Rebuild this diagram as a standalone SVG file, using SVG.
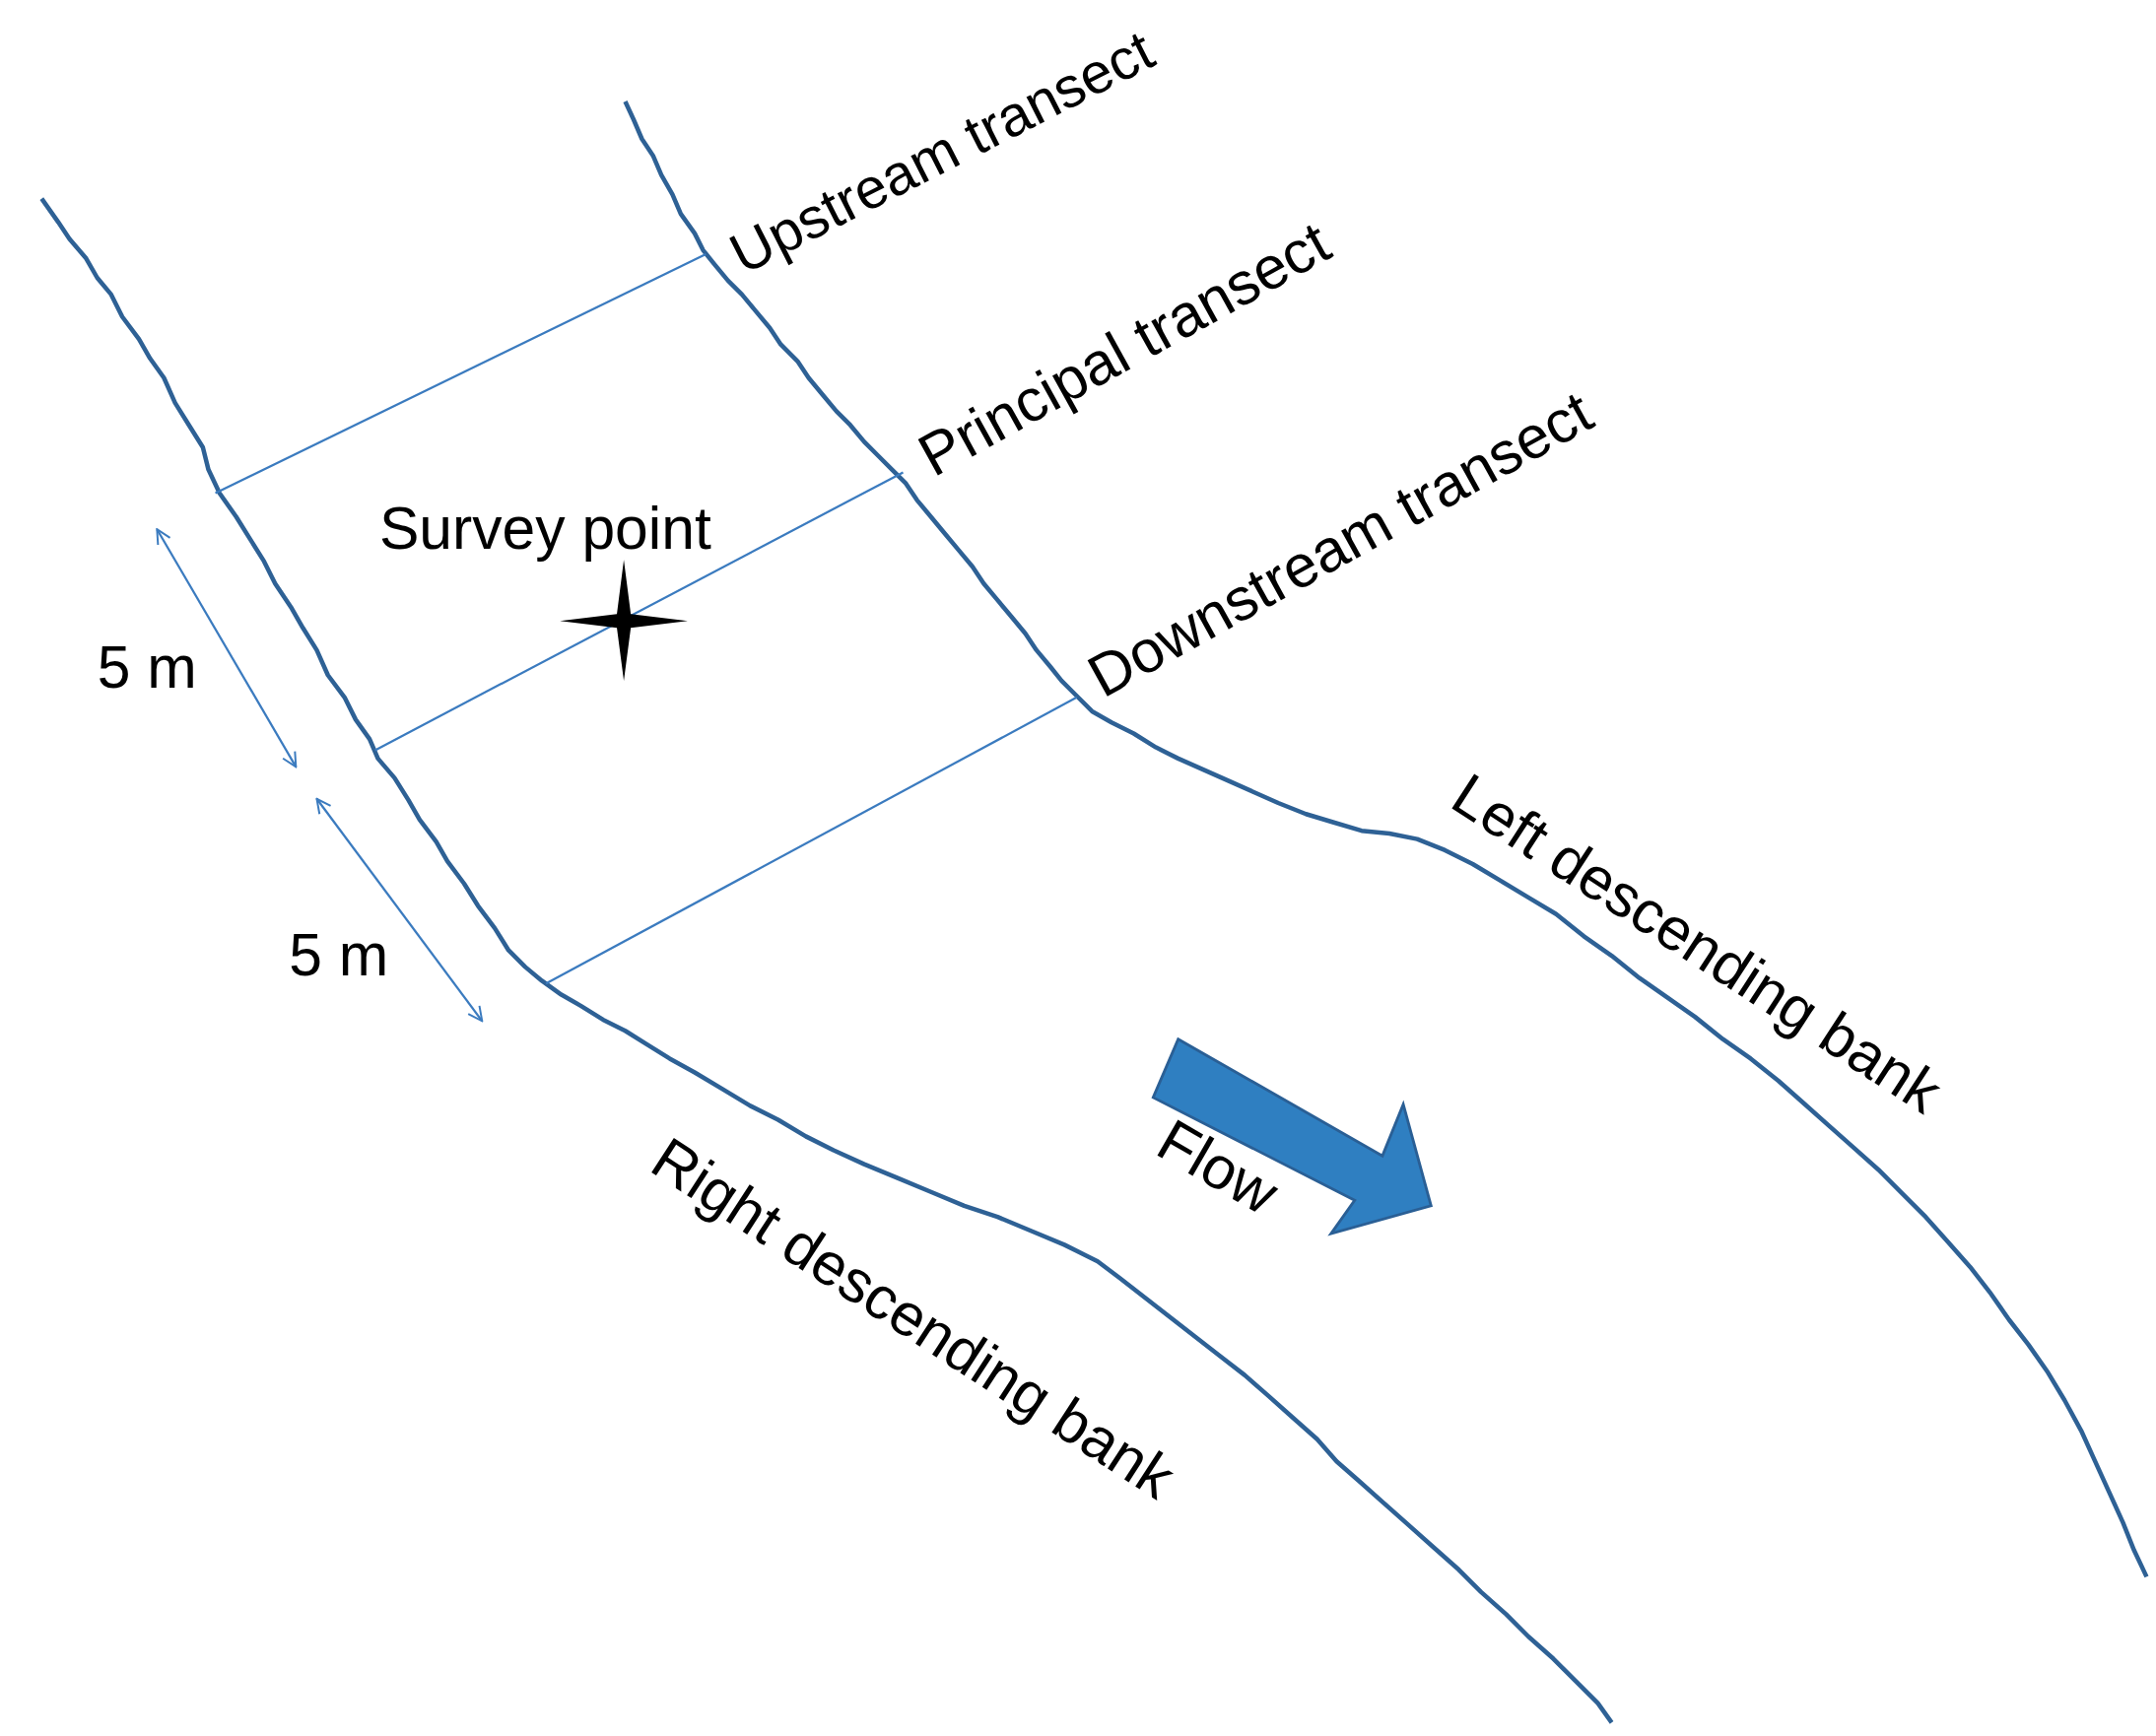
<svg xmlns="http://www.w3.org/2000/svg" width="2188" height="1762" viewBox="0 0 2188 1762">
<style>
.bank{fill:none;stroke:#2e6195;stroke-width:3.2;stroke-linejoin:round}
.tr{stroke:#3b7bbf;stroke-width:1.6;fill:none}
.t{font-family:"Liberation Sans",Arial,sans-serif;font-size:43px;fill:#000}
</style>
<defs>
<marker id="ah" viewBox="0 0 12 12" refX="11" refY="6" markerWidth="12" markerHeight="12" orient="auto-start-reverse" markerUnits="userSpaceOnUse"><path d="M1,1 L11,6 L1,11" fill="none" stroke="#3b7bbf" stroke-width="1.4"/></marker>
</defs>
<rect width="2188" height="1762" fill="#fff"/>
<g transform="scale(1.41)">
<g id="connectors">
<polyline class="bank" points="30,143 42,160 50,172 62,186 70,200 80,212 88,228 100,244 108,258 118,272 126,290 136,306 146,322 150,338 158,355 170,372 180,388 190,404 198,420 210,438 218,452 228,468 236,486 248,502 256,518 266,532 272,546 284,560 294,576 302,590 314,606 322,620 334,636 344,652 356,668 366,684 378,696 390,706 404,716 418,724 434,734 450,742 466,752 482,762 500,772 520,784 540,796 560,806 580,818 600,828 622,838 646,848 670,858 694,868 718,876 742,886 766,896 790,908 806,920 824,934 842,948 860,962 878,976 896,990 912,1004 930,1020 948,1036 962,1052 978,1066 996,1082 1014,1098 1032,1114 1050,1130 1066,1146 1084,1162 1100,1178 1118,1194 1134,1210 1150,1226 1160,1240"/>
<polyline class="bank" points="450,73 456,86 462,100 470,112 476,126 484,140 490,154 500,168 506,180 514,190 524,202 534,212 544,224 554,236 562,248 574,260 582,272 592,284 602,296 612,306 622,318 632,328 642,338 652,348 660,360 670,372 680,384 690,396 700,408 708,420 718,432 728,444 738,456 746,468 756,480 764,490 774,500 786,512 800,520 816,528 832,538 848,546 866,554 884,562 902,570 920,578 940,586 960,592 980,598 1000,600 1020,604 1040,612 1060,622 1080,634 1100,646 1120,658 1140,674 1160,688 1180,704 1200,718 1220,732 1240,748 1260,762 1280,778 1298,794 1316,810 1334,826 1352,842 1370,860 1386,876 1402,894 1418,912 1432,930 1446,950 1460,968 1474,988 1486,1008 1498,1030 1508,1052 1518,1074 1528,1096 1536,1116 1545,1135"/>
<line class="tr" x1="155" y1="355" x2="508" y2="183"/>
<line class="tr" x1="270" y1="540" x2="650" y2="340"/>
<line class="tr" x1="393" y1="708" x2="775" y2="502"/>
<line class="tr" x1="113" y1="381" x2="213" y2="552" marker-start="url(#ah)" marker-end="url(#ah)"/>
<line class="tr" x1="228" y1="575" x2="347" y2="735" marker-start="url(#ah)" marker-end="url(#ah)"/>
</g>
<g id="survey-point">
<path d="M449,403 L454,442 L495,447 L454,452 L449,490 L444,452 L403,447 L444,442 Z" fill="#000"/>
<text class="t" x="273" y="395">Survey point</text>
</g>
<g id="flow">
<polygon points="848,748 995,832 1010,795 1030,868 958,888 975,864 830,790" fill="#2f7fc1" stroke="#2a5f95" stroke-width="2"/>
<text class="t" transform="translate(830,830) rotate(30)">Flow</text>
</g>
<g id="labels">
<text class="t" x="70" y="495">5 m</text>
<text class="t" x="208" y="702">5 m</text>
<text class="t" style="font-size:41px" transform="translate(535,198) rotate(-27)">Upstream transect</text>
<text class="t" transform="translate(672,344) rotate(-29)">Principal transect</text>
<text class="t" transform="translate(794,503) rotate(-29)">Downstream transect</text>
<text class="t" transform="translate(1042,580) rotate(33)">Left descending bank</text>
<text class="t" transform="translate(466,842) rotate(33)">Right descending bank</text>
</g>
</g>
</svg>
